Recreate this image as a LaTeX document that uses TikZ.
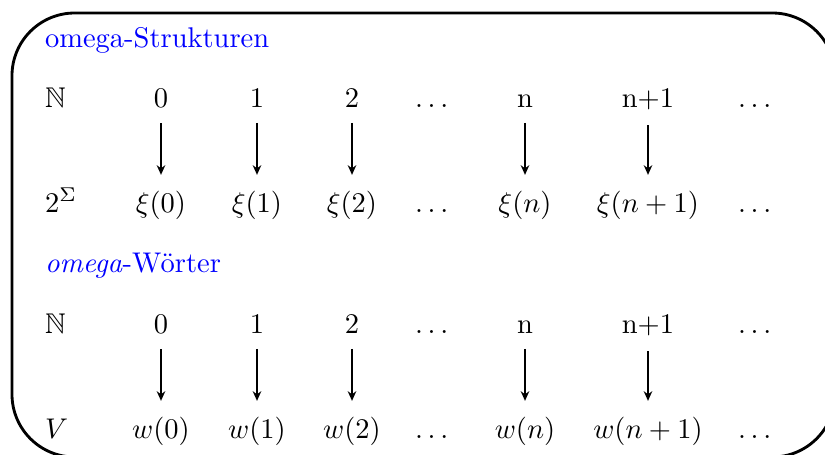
\documentclass[tikz,border=0pt]{standalone}
\usepackage{amsmath,amssymb,amsfonts}
\usepackage{xcolor}
\usepackage{tikz}
\usetikzlibrary{arrows.meta}

\begin{document}
\begin{tikzpicture}[
  x=0.351pt,y=-0.351pt,
  every node/.style={anchor=base},
  rowlbl/.style={anchor=base west},
  head/.style={anchor=base west,text=blue},
  arr/.style={-{Stealth[length=3.4pt,width=3pt]},thick,shorten <=2pt,shorten >=2pt},
  frame/.style={draw,line width=1pt,rounded corners=22pt}
]
\useasboundingbox (0,0) rectangle (825,454);
\draw[frame] (12,13) rectangle (835,457);

% omega-Strukturen
\node[head] (t1) at (35,47) {omega-Strukturen};
\node[rowlbl] (n1) at (35,107) {$\mathbb{N}$};
\node (a0) at (161,107) {0};
\node (a1) at (257,107) {1};
\node (a2) at (352,107) {2};
\node (ad) at (434,107) {$\dots$};
\node (an) at (525,107) {n};
\node (an1) at (648,107) {n+1};
\node (ae) at (757,107) {$\dots$};

\node[rowlbl] (s1) at (35,212) {$2^\Sigma$};
\node (x0) at (161,212) {$\xi(0)$};
\node (x1) at (257,212) {$\xi(1)$};
\node (x2) at (352,212) {$\xi(2)$};
\node (xd) at (434,212) {$\dots$};
\node (xn) at (525,212) {$\xi(n)$};
\node (xn1) at (648,212) {$\xi(n+1)$};
\node (xe) at (757,212) {$\dots$};

% omega-Woerter
\node[head] (t2) at (35,272) {\textit{omega}-Wörter};
\node[rowlbl] (n2) at (35,333) {$\mathbb{N}$};
\node (b0) at (161,333) {0};
\node (b1) at (257,333) {1};
\node (b2) at (352,333) {2};
\node (bd) at (434,333) {$\dots$};
\node (bn) at (525,333) {n};
\node (bn1) at (648,333) {n+1};
\node (be) at (757,333) {$\dots$};

\node[rowlbl] (v1) at (35,438) {$V$};
\node (w0) at (161,438) {$w(0)$};
\node (w1) at (257,438) {$w(1)$};
\node (w2) at (352,438) {$w(2)$};
\node (wd) at (434,438) {$\dots$};
\node (wn) at (525,438) {$w(n)$};
\node (wn1) at (648,438) {$w(n+1)$};
\node (we) at (757,438) {$\dots$};

\foreach \a/\b in {a0/x0,a1/x1,a2/x2,an/xn,an1/xn1,b0/w0,b1/w1,b2/w2,bn/wn,bn1/wn1}
  \draw[arr] (\a) -- (\b);
\end{tikzpicture}
\end{document}
